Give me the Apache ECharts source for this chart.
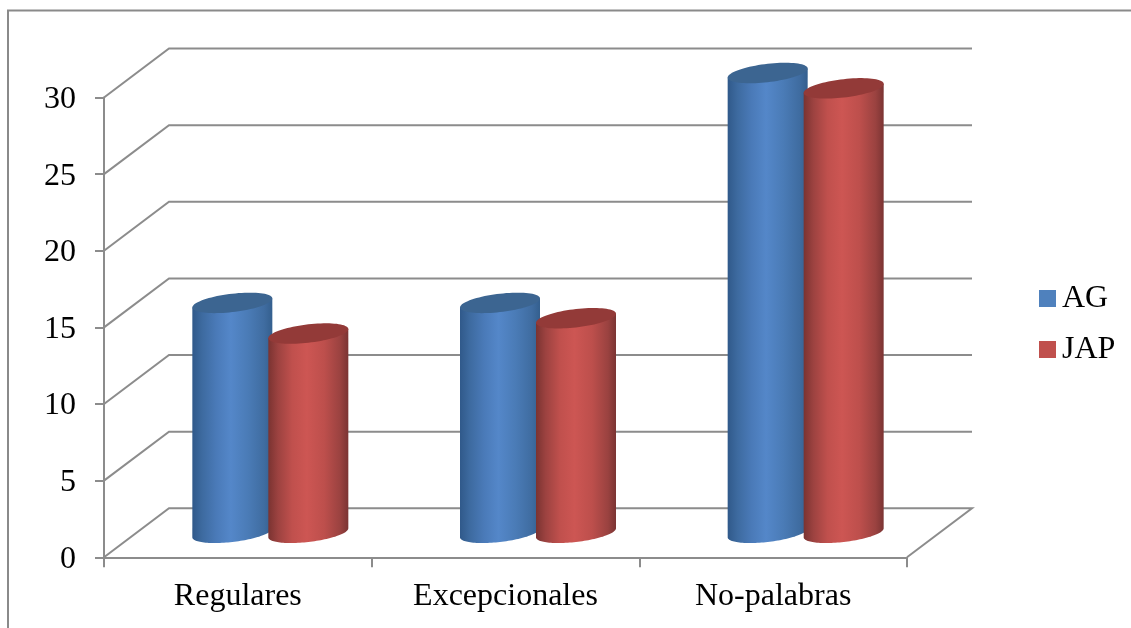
<!DOCTYPE html>
<html>
<head>
<meta charset="utf-8">
<style>html,body{margin:0;padding:0;background:#fff}#chart{width:1131px;height:628px}</style>
<script src="https://cdn.jsdelivr.net/npm/echarts@6/dist/echarts.min.js"></script>
</head>
<body>
<div id="chart"></div>
<script>
// Reading scores per word type, drawn as cylinders in a faux-3D box.
const categories = ['Regulares', 'Excepcionales', 'No-palabras'];
const agValues = [15, 15, 30];
const japValues = [13, 14, 29];
const yTicks = [0, 5, 10, 15, 20, 25, 30];

const DEPTH_X = 65, DEPTH_Y = -49;
const GRID_COLOR = '#8c8c8c';
const FONT = '"Liberation Serif", "Times New Roman", serif';
const FONT_SIZE = 32;

const RADIUS = 40, ELLIPSE_RY = 9.2, ELLIPSE_SHEAR = 4.5;

// Point on the tilted elliptical cross-section of a cylinder.
function rimPoint(cx, cy, t) {
  return [
    cx + RADIUS * Math.cos(t),
    cy - ELLIPSE_RY * Math.sin(t) - ELLIPSE_SHEAR * Math.cos(t)
  ];
}
function rimArc(cx, cy, from, to, steps) {
  const pts = [];
  for (let i = 0; i <= steps; i++) pts.push(rimPoint(cx, cy, from + (to - from) * i / steps));
  return pts;
}

function sideGradient(stops) {
  return new echarts.graphic.LinearGradient(0, 0, 1, 0,
    stops.map(s => ({ offset: s[0], color: s[1] })));
}

// Box wall: diagonal from the axis to the back plane, then the back gridline.
function renderWall(params, api) {
  const v = api.value(0);
  const grid = params.coordSys;
  const front = api.coord([0, v]);
  const left = [grid.x, front[1]];
  const back = [left[0] + DEPTH_X, left[1] + DEPTH_Y];
  const end = [grid.x + grid.width + DEPTH_X, back[1]];
  const pts = [left, back, end];
  if (v === 0) pts.push([grid.x + grid.width, left[1]]);
  return {
    type: 'polyline',
    shape: { points: pts },
    style: { stroke: GRID_COLOR, lineWidth: 2, fill: null }
  };
}

function makeCylinder(slot, side, top) {
  return function (params, api) {
    const cat = api.value(0);
    const base = api.coord([cat, 0]);
    const head = api.coord([cat, api.value(1)]);
    const cx = base[0] + DEPTH_X / 2 + slot * 38;
    const baseY = base[1] + DEPTH_Y / 2;
    const topY = head[1] + DEPTH_Y / 2;
    const body = rimArc(cx, topY, Math.PI, 0, 1).concat(rimArc(cx, baseY, 0, -Math.PI, 60));
    return {
      type: 'group',
      children: [
        { type: 'polygon', shape: { points: body }, style: { fill: side } },
        { type: 'polygon', shape: { points: rimArc(cx, topY, 0, Math.PI * 2, 80) }, style: { fill: top } }
      ]
    };
  };
}

const blueSide = sideGradient([[0, '#30598a'], [0.12, '#3d6a9f'], [0.3, '#4a7ab8'], [0.48, '#5487c9'], [0.7, '#4a7bb6'], [0.9, '#3f6ca0'], [1, '#345f8e']]);
const redSide = sideGradient([[0, '#7a3331'], [0.12, '#9c4240'], [0.3, '#c0504d'], [0.48, '#cd5653'], [0.7, '#bd4f4c'], [0.9, '#9a4240'], [1, '#7b3433']]);

const chart = echarts.init(document.getElementById('chart'), null, { renderer: 'canvas' });
chart.setOption({
  animation: false,
  backgroundColor: '#ffffff',
  grid: { left: 104, right: 224, top: 97.5, bottom: 70.7, containLabel: false },
  legend: {
    left: 1039, top: 280, orient: 'vertical', padding: 0,
    itemWidth: 17, itemHeight: 17, itemGap: 14, icon: 'rect',
    textStyle: { fontFamily: FONT, fontSize: FONT_SIZE, color: '#000', padding: [4, 0, 0, 1], lineHeight: 33 },
    data: ['AG', 'JAP']
  },
  xAxis: {
    type: 'category', data: categories, boundaryGap: true,
    axisLine: { lineStyle: { color: GRID_COLOR, width: 2 } },
    axisTick: { show: true, alignWithLabel: false, length: 10, lineStyle: { color: GRID_COLOR, width: 2 } },
    axisLabel: { fontFamily: FONT, fontSize: FONT_SIZE, color: '#000', margin: 23 }
  },
  yAxis: {
    type: 'value', min: 0, max: 30, interval: 5,
    axisLine: { show: true, lineStyle: { color: GRID_COLOR, width: 2 } },
    axisTick: { show: true, length: 9, lineStyle: { color: GRID_COLOR, width: 2 } },
    axisLabel: { fontFamily: FONT, fontSize: FONT_SIZE, color: '#000', margin: 28, verticalAlign: 'top', lineHeight: 4 },
    splitLine: { show: false }
  },
  graphic: [{
    type: 'polyline', silent: true, z: -1,
    shape: { points: [[8, 628], [8, 10.5], [1131, 10.5]] },
    style: { stroke: '#8a8a8a', lineWidth: 2, fill: null }
  }],
  series: [
    {
      type: 'custom', silent: true, coordinateSystem: 'cartesian2d',
      encode: { x: null, y: 0 }, renderItem: renderWall, data: yTicks.map(v => [v]), clip: false
    },
    {
      name: 'AG', type: 'custom', clip: false, itemStyle: { color: '#4f81bd' },
      renderItem: makeCylinder(-1, blueSide, '#3c6591'),
      encode: { x: 0, y: 1 }, data: agValues.map((v, i) => [i, v])
    },
    {
      name: 'JAP', type: 'custom', clip: false, itemStyle: { color: '#c0504d' },
      renderItem: makeCylinder(1, redSide, '#933a38'),
      encode: { x: 0, y: 1 }, data: japValues.map((v, i) => [i, v])
    }
  ]
});
</script>
</body>
</html>
